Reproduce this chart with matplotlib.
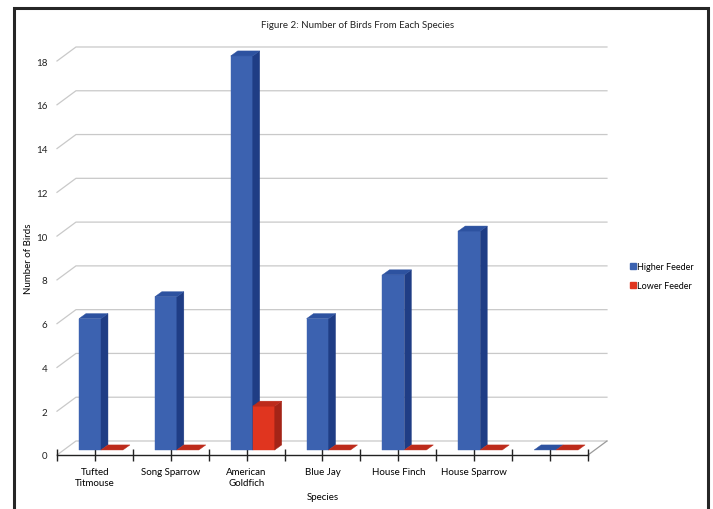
import matplotlib.pyplot as plt
from matplotlib.patches import Polygon, Rectangle, Patch

species = ['Tufted\nTitmouse', 'Song Sparrow', 'American\nGoldfich', 'Blue Jay',
           'House Finch', 'House Sparrow', '']
higher_feeder = [6, 7, 18, 6, 8, 10, 0]
lower_feeder = [0, 0, 2, 0, 0, 0, 0]
y_ticks = [0, 2, 4, 6, 8, 10, 12, 14, 16, 18]

plt.rcParams['font.family'] = ['Lato', 'DejaVu Sans']

# colours for front / side / top faces
blue = ('#3c62b0', '#1f3d85', '#2d52a0')
red = ('#e0351f', '#a42417', '#bd2b1b')

# depth of the chart walls and of each bar, in data units
wall_dx, wall_dy = 0.25, 0.64
bar_dx, bar_dy = 0.092, 0.23
bar_w = 0.29
bar_off = 0.29
bar_base = 0.23


def face(ax, pts, col):
    ax.add_patch(Polygon(pts, closed=True, fc=col, ec=col, lw=0.3,
                         clip_on=False, zorder=3))


def bar3d(ax, x0, h, cols):
    b = bar_base
    t = b + h
    x1 = x0 + bar_w
    if h > 0:
        face(ax, [(x0, b), (x1, b), (x1, t), (x0, t)], cols[0])
        face(ax, [(x1, b), (x1 + bar_dx, b + bar_dy), (x1 + bar_dx, t + bar_dy), (x1, t)], cols[1])
    face(ax, [(x0, t), (x1, t), (x1 + bar_dx, t + bar_dy), (x0 + bar_dx, t + bar_dy)], cols[2])


fig = plt.figure(figsize=(7.13, 5.10), dpi=100)
ax = fig.add_axes([57 / 713, 54 / 510, 531 / 713, 394 / 510])
ax.set_xlim(0, len(species))
ax.set_ylim(0, 18)

grid_col = '#c9c9c9'
n = len(species)
for v in y_ticks:
    ax.plot([0, wall_dx, n + wall_dx], [v, v + wall_dy, v + wall_dy],
            color=grid_col, lw=0.9, clip_on=False, zorder=1)
# right edge of the floor
ax.plot([n, n + wall_dx], [0, wall_dy], color='#9a9a9a', lw=0.9, clip_on=False, zorder=1)

for i in range(n):
    bar3d(ax, i + bar_off, higher_feeder[i], blue)
    bar3d(ax, i + bar_off + bar_w, lower_feeder[i], red)

for s in ['top', 'right', 'left']:
    ax.spines[s].set_visible(False)
ax.spines['bottom'].set_color('#222222')
ax.spines['bottom'].set_linewidth(1.0)

ax.set_yticks(y_ticks)
ax.tick_params(axis='y', length=0, pad=7, labelsize=7, colors='#222222')
ax.set_xticks([i + 0.5 for i in range(n)])
ax.set_xticklabels(species)
ax.set_xticks(range(n + 1), minor=True)
ax.tick_params(axis='x', which='both', direction='inout', length=8, width=1,
               color='#222222', labelsize=7, pad=5)
ax.set_facecolor('none')

ax.set_xlabel('Species', fontsize=7)
ax.set_ylabel('Number of Birds', fontsize=7)
ax.xaxis.set_label_coords(0.5, -0.094)
ax.yaxis.set_label_coords(-0.045, 0.5)

fig.text(0.502, 1 - 26 / 510, 'Figure 2: Number of Birds From Each Species',
         ha='center', va='center', fontsize=7, color='#222222')

handles = [Patch(color=blue[0], label='Higher Feeder'), Patch(color=red[0], label='Lower Feeder')]
fig.legend(handles=handles, loc='upper left', bbox_to_anchor=(622 / 713, 1 - 255 / 510),
           frameon=False, fontsize=6.5, handlelength=0.6, handleheight=0.6,
           handletextpad=0.2, labelspacing=1.1)

# outer frame
fig.add_artist(Rectangle((13.5 / 713, -0.05), (708 - 13.5) / 713, 1.05 - 9 / 510,
                         transform=fig.transFigure, fill=False, ec='#262626', lw=2.2))

fig.savefig('out.png', dpi=100)
